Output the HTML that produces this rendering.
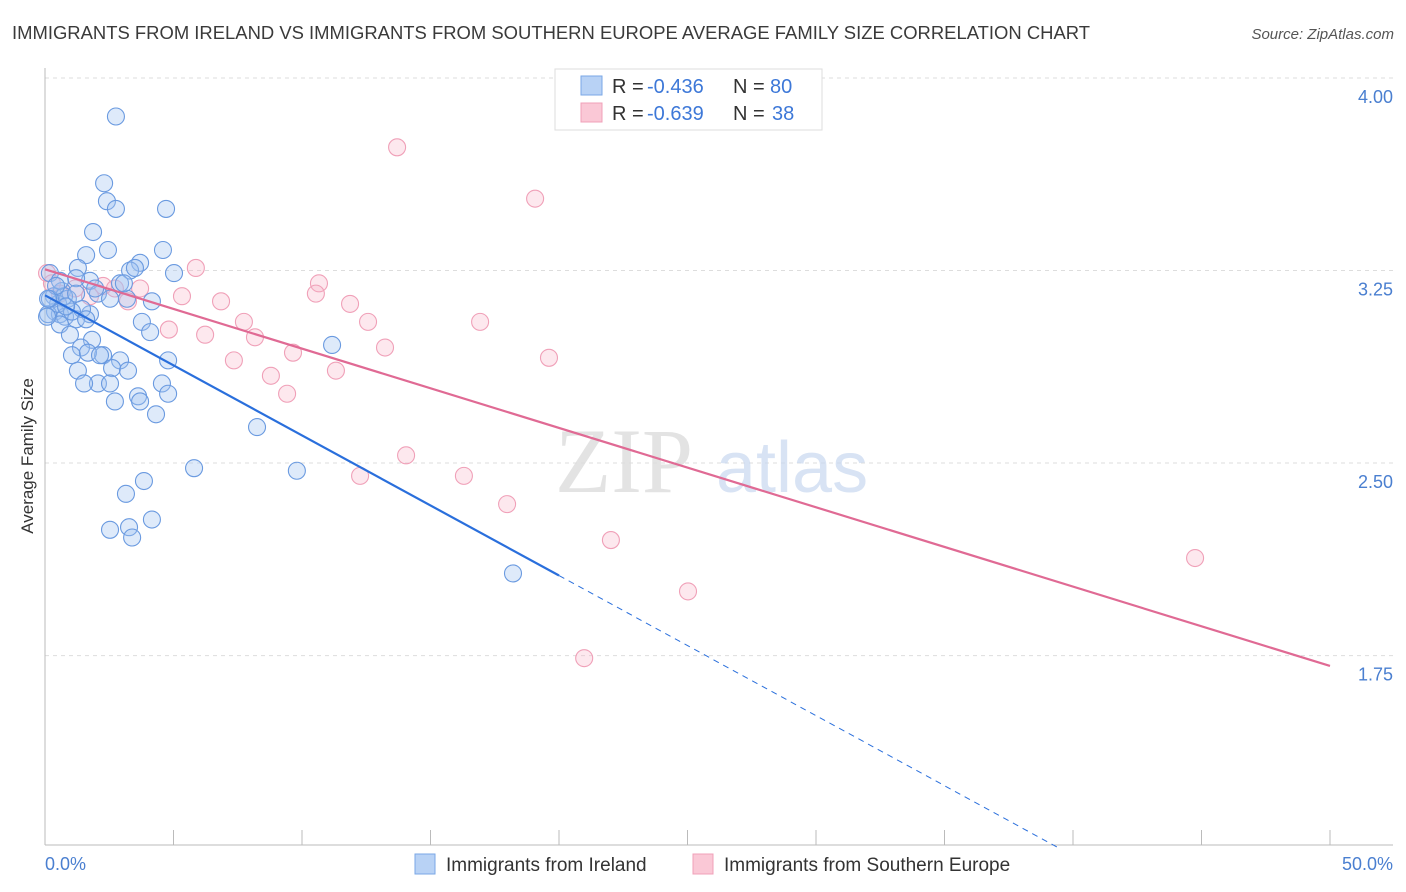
<!DOCTYPE html>
<html><head><meta charset="utf-8"><style>
body{margin:0;background:#fff;font-family:"Liberation Sans",sans-serif;}
svg{display:block}
</style></head><body>
<svg id="chart" width="1406" height="892" xmlns="http://www.w3.org/2000/svg">
<text x="12" y="39" font-size="18" fill="#3a3a3a" textLength="1078" lengthAdjust="spacingAndGlyphs">IMMIGRANTS FROM IRELAND VS IMMIGRANTS FROM SOUTHERN EUROPE AVERAGE FAMILY SIZE CORRELATION CHART</text>
<text x="1394" y="39" font-size="15" fill="#555" font-style="italic" text-anchor="end">Source: ZipAtlas.com</text>
<g id="grid"></g>
<text x="555" y="492" font-size="92" fill="#ddd" font-family="Liberation Serif,serif" opacity="0.8">ZIP</text>
<text x="716" y="492" font-size="72" fill="#c8d8f0" opacity="0.7">atlas</text>
<g id="points"></g>
<g id="trends"></g>
<text transform="translate(33,456) rotate(-90)" font-size="17" fill="#333" text-anchor="middle">Average Family Size</text>
<text x="45" y="870" font-size="18" fill="#4a7fd0">0.0%</text>
<text x="1393" y="870" font-size="18" fill="#4a7fd0" text-anchor="end">50.0%</text>
<g font-size="20">
<rect x="555" y="69" width="267" height="61" fill="#fff" stroke="#ddd"/>
<rect x="581" y="76" width="21" height="19" fill="#b8d2f5" stroke="#7aa7e6"/>
<text x="612" y="93" fill="#333">R =</text>
<text x="647" y="93" fill="#3d78d8">-0.436</text>
<text x="733" y="93" fill="#333">N =</text>
<text x="770" y="93" fill="#3d78d8">80</text>
<rect x="581" y="103" width="21" height="19" fill="#fac8d6" stroke="#f0a0b8"/>
<text x="612" y="120" fill="#333">R =</text>
<text x="647" y="120" fill="#3d78d8">-0.639</text>
<text x="733" y="120" fill="#333">N =</text>
<text x="772" y="120" fill="#3d78d8">38</text>
</g>
<g>
<rect x="415" y="854" width="20" height="20" fill="#b8d2f5" stroke="#7aa7e6"/>
<text x="446" y="871" font-size="19" fill="#333">Immigrants from Ireland</text>
<rect x="693" y="854" width="20" height="20" fill="#fac8d6" stroke="#f0a0b8"/>
<text x="724" y="871" font-size="19" fill="#333">Immigrants from Southern Europe</text>
</g>
</svg>
<script>
const yTicks=[4.00,3.25,2.50,1.75];
const yTickLabels=["4.00","3.25","2.50","1.75"];
const xTicks=[0,5,10,15,20,25,30,35,40,45,50];
const blueX=[2.76,2.30,2.41,2.76,4.71,1.87,2.45,4.59,1.60,3.70,1.28,3.31,5.02,0.19,1.75,1.21,2.92,0.66,2.06,0.35,0.89,3.19,4.16,0.39,0.58,0.12,1.75,0.78,1.21,3.77,0.58,4.09,0.97,1.83,1.40,11.17,1.05,2.26,1.67,2.92,4.79,2.61,3.23,1.28,2.06,2.53,4.55,3.62,3.70,4.79,2.72,4.32,8.25,5.80,9.80,3.85,3.15,4.16,2.53,3.27,3.39,18.21,0.51,0.08,0.74,1.44,2.14,3.07,3.50,1.52,0.58,1.05,1.95,0.19,0.82,1.60,0.43,2.53,0.12,1.21];
const blueY=[3.85,3.59,3.52,3.49,3.49,3.40,3.33,3.33,3.31,3.28,3.26,3.25,3.24,3.24,3.21,3.22,3.20,3.17,3.16,3.15,3.14,3.14,3.13,3.09,3.08,3.08,3.08,3.07,3.06,3.05,3.04,3.01,3.00,2.98,2.95,2.96,2.92,2.92,2.93,2.90,2.90,2.87,2.86,2.86,2.81,2.81,2.81,2.76,2.74,2.77,2.74,2.69,2.64,2.48,2.47,2.43,2.38,2.28,2.24,2.25,2.21,2.07,3.12,3.07,3.15,3.10,2.92,3.20,3.26,2.81,3.21,3.09,3.18,3.14,3.11,3.06,3.19,3.14,3.14,3.16];
const pinkX=[13.70,19.07,5.87,10.66,10.54,0.08,2.26,3.70,5.33,6.85,3.23,11.87,16.93,12.57,7.74,4.82,8.17,6.23,13.23,9.65,19.61,7.35,11.32,8.79,9.42,14.05,12.26,16.30,17.98,22.02,44.75,25.02,20.98,0.58,1.75,1.17,2.72,0.27];
const pinkY=[3.73,3.53,3.26,3.20,3.16,3.24,3.19,3.18,3.15,3.13,3.13,3.12,3.05,3.05,3.05,3.02,2.99,3.00,2.95,2.93,2.91,2.90,2.86,2.84,2.77,2.53,2.45,2.45,2.34,2.20,2.13,2.00,1.74,3.16,3.15,3.18,3.18,3.20];
const X0=45,X1=1330,Y0=78,PY=256.7;
const xs=v=>X0+(X1-X0)*v/50, ys=v=>Y0+(4-v)*PY;
const NS="http://www.w3.org/2000/svg";
function mk(t,a,p){const e=document.createElementNS(NS,t);for(const k in a)e.setAttribute(k,a[k]);p.appendChild(e);return e;}
const grid=document.getElementById('grid');
yTicks.forEach((t,i)=>{
 const l=mk('line',{x1:45,x2:1393,y1:ys(t),y2:ys(t),stroke:'#ddd','stroke-dasharray':'4,4'},grid);
 
 
 const tx=mk('text',{x:1393,y:ys(t)+25,'font-size':18,fill:'#4a7fd0','text-anchor':'end'},grid);
 tx.textContent=yTickLabels[i];
 
 
});
const ax=mk('line',{x1:45,x2:1393,y1:845,y2:845,stroke:'#bbb'},grid);


const ay=mk('line',{x1:45,x2:45,y1:68,y2:845,stroke:'#bbb'},grid);


xTicks.forEach(t=>{
 const l=mk('line',{x1:xs(t),x2:xs(t),y1:830,y2:845,stroke:'#bbb'},grid);
 
 
});
const pts=document.getElementById('points');
pinkX.forEach((v,i)=>{
 const c=mk('circle',{cx:xs(v),cy:ys(pinkY[i]),r:8.5,fill:'rgba(248,180,200,0.3)',stroke:'#f0a0b8','stroke-width':1.1},pts);
 
 
});
blueX.forEach((v,i)=>{
 const c=mk('circle',{cx:xs(v),cy:ys(blueY[i]),r:8.5,fill:'rgba(160,195,240,0.35)',stroke:'#6a9ae0','stroke-width':1.1},pts);
 
 
});
function fit(X,Y){const n=X.length;let mx=0,my=0;X.forEach((x,i)=>{mx+=x;my+=Y[i]});mx/=n;my/=n;let sxy=0,sxx=0;X.forEach((x,i)=>{sxy+=(x-mx)*(Y[i]-my);sxx+=(x-mx)**2});const b=sxy/sxx;return [my-b*mx,b];}
const tr=document.getElementById('trends');
const [ba,bb]=fit(blueX,blueY);
let l=mk('line',{x1:xs(0),y1:ys(ba),x2:xs(20),y2:ys(ba+bb*20),stroke:'#2a6fdc','stroke-width':2.2},tr);


const xe=(1.0-ba)/bb;
l=mk('line',{x1:xs(20),y1:ys(ba+bb*20),x2:xs(xe),y2:ys(1.0),stroke:'#2a6fdc','stroke-width':1,'stroke-dasharray':'6,5'},tr);


const [pa,pb]=fit(pinkX,pinkY);
l=mk('line',{x1:xs(0),y1:ys(pa),x2:xs(50),y2:ys(pa+pb*50),stroke:'#e06a94','stroke-width':2.2},tr);


</script>
</body></html>
